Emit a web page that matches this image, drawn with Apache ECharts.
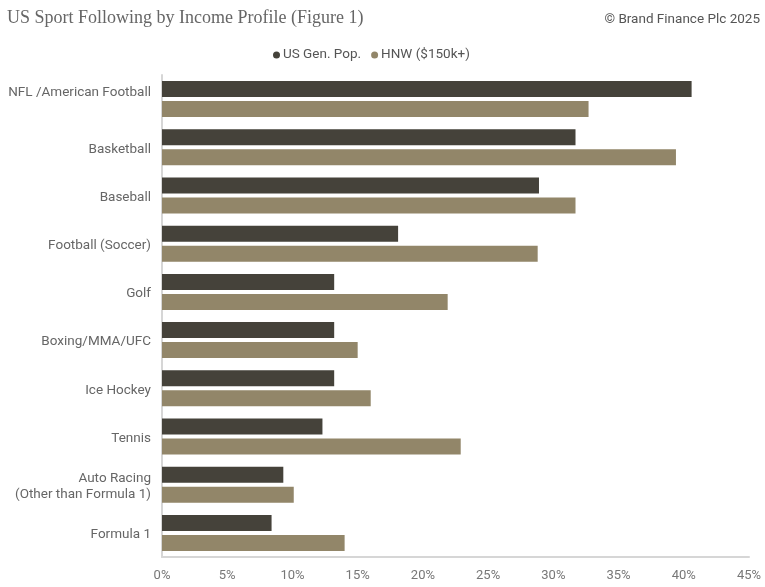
<!DOCTYPE html>
<html>
<head>
<meta charset="utf-8">
<script src="https://cdn.jsdelivr.net/npm/echarts@6/dist/echarts.min.js"></script>
<style>
html,body{margin:0;padding:0;background:#fff;}
#chart{width:765px;height:587px;}
</style>
</head>
<body>
<div id="chart"></div>
<script>
const categories = [
  'NFL /American Football',
  'Basketball',
  'Baseball',
  'Football (Soccer)',
  'Golf',
  'Boxing/MMA/UFC',
  'Ice Hockey',
  'Tennis',
  'Auto Racing\n(Other than Formula 1)',
  'Formula 1'
];
const usGenPop = [40.6, 31.7, 28.9, 18.1, 13.2, 13.2, 13.2, 12.3, 9.3, 8.4];
const hnw = [32.7, 39.4, 31.7, 28.8, 21.9, 15.0, 16.0, 22.9, 10.1, 14.0];
const seriesNames = ['US Gen. Pop.', 'HNW ($150k+)'];
const tickStep = 5;
const axisMax = 45;

const chart = echarts.init(document.getElementById('chart'));
chart.setOption({
  backgroundColor: '#ffffff',
  animation: false,
  title: [
    {
      text: 'US Sport Following by Income Profile (Figure 1)',
      left: 2, top: 4,
      textStyle: {fontFamily: 'Liberation Serif', fontSize: 18, fontWeight: 'normal', color: '#666666'}
    },
    {
      text: '© Brand Finance Plc 2025',
      right: 0, top: 8,
      textStyle: {fontFamily: 'Roboto', fontSize: 13.5, fontWeight: 'normal', color: '#555555'}
    }
  ],
  legend: {
    data: seriesNames,
    left: 268, top: 43,
    icon: 'circle',
    itemWidth: 7, itemHeight: 7, itemGap: 10,
    textStyle: {fontFamily: 'Roboto', fontSize: 13.5, color: '#555555', padding: [0,0,0,-2]}
  },
  grid: {left: 162, right: 16, top: 75, bottom: 30, containLabel: false},
  xAxis: {
    type: 'value', min: 0, max: axisMax, interval: tickStep,
    axisLine: {show: true, lineStyle: {color: '#d6d6d6', width: 2}},
    axisTick: {show: false},
    splitLine: {show: false},
    axisLabel: {formatter: '{value}%', fontFamily: 'Roboto', fontSize: 13, color: '#777777', margin: 12}
  },
  yAxis: {
    type: 'category', data: categories, inverse: true, offset: 4,
    axisLine: {show: true, lineStyle: {color: '#d6d6d6', width: 2}},
    axisTick: {show: false},
    axisLabel: {
      fontFamily: 'Roboto', fontSize: 13.5, color: '#666666', margin: 7, lineHeight: 16,
      padding: [4, 0, 0, 0],
      formatter: function (v, i) { return i === 0 ? '{up|' + v + '}' : v; },
      rich: {up: {fontFamily: 'Roboto', fontSize: 13.5, color: '#666666', padding: [0, 0, 16, 0]}}
    }
  },
  series: [
    {name: seriesNames[0], type: 'bar', data: usGenPop, barWidth: 16, barGap: '25%',
     itemStyle: {color: '#45423a'}},
    {name: seriesNames[1], type: 'bar', data: hnw, barWidth: 16,
     itemStyle: {color: '#928669'}}
  ]
});
</script>
</body>
</html>
